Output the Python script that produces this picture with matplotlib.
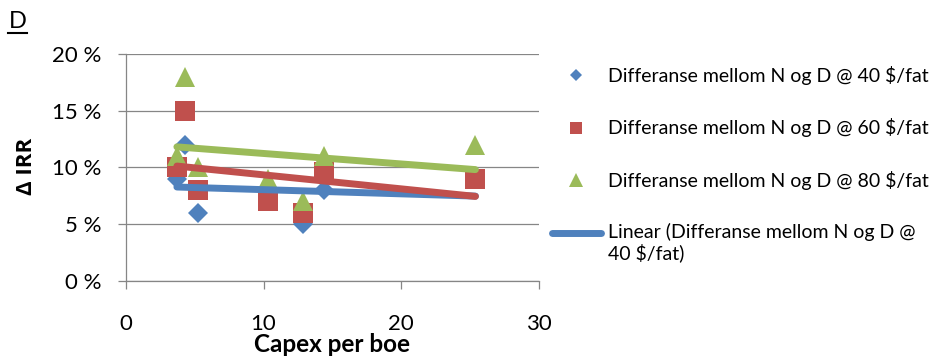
import numpy as np
import matplotlib
matplotlib.use("Agg")
import matplotlib.pyplot as plt
from matplotlib.lines import Line2D
from matplotlib.legend_handler import HandlerLine2D

plt.rcParams['font.family'] = ['Lato', 'DejaVu Sans']

# ---- data ----
capex = [3.7, 4.3, 5.2, 10.3, 12.9, 14.4, 25.4]
irr_40 = [9.0, 12.0, 6.0, 7.0, 5.0, 8.0, 9.0]
irr_60 = [10.0, 15.0, 8.0, 7.0, 6.0, 9.6, 9.0]
irr_80 = [11.0, 18.0, 10.0, 9.0, 7.0, 11.0, 12.0]

series_labels = ["Differanse mellom N og D @ 40 $/fat",
                 "Differanse mellom N og D @ 60 $/fat",
                 "Differanse mellom N og D @ 80 $/fat"]
trend_label = "Linear (Differanse mellom N og D @\n40 $/fat)"

x_ticks = [0, 10, 20, 30]
y_ticks = [0, 5, 10, 15, 20]
y_tick_labels = ["0 %", "5 %", "10 %", "15 %", "20 %"]

BLUE = "#4F81BD"
RED = "#C0504D"
GREEN = "#9BBB59"
GRID = "#868686"

W, H = 933, 356
fig = plt.figure(figsize=(W / 100, H / 100), dpi=100)
ax = fig.add_axes([126 / W, (H - 280.7) / H, (538.7 - 126) / W, (280.7 - 54) / H])

# markers
ax.plot(capex, irr_40, ls="none", marker="D", ms=10.2, mew=0, color=BLUE, zorder=3)
ax.plot(capex, irr_60, ls="none", marker="s", ms=14.4, mew=0, color=RED, zorder=3)
ax.plot(capex, irr_80, ls="none", marker="^", ms=14.4, mew=0, color=GREEN, zorder=3)

# linear trend lines
xs = np.array([min(capex), max(capex)])
for ys, col in [(irr_40, BLUE), (irr_60, RED), (irr_80, GREEN)]:
    k, m = np.polyfit(capex, ys, 1)
    ax.plot(xs, k * xs + m, color=col, lw=5, solid_capstyle="round", zorder=4)

ax.set_xlim(0, 30)
ax.set_ylim(0, 20)
ax.set_xticks(x_ticks)
ax.set_yticks(y_ticks)
ax.set_yticklabels(y_tick_labels)

for s in ["top", "right"]:
    ax.spines[s].set_visible(False)
for s in ["left", "bottom"]:
    ax.spines[s].set_color(GRID)
    ax.spines[s].set_linewidth(0.9)

ax.yaxis.grid(True, color=GRID, lw=0.9)
ax.set_axisbelow(True)
ax.tick_params(axis="both", direction="out", length=5.8, width=0.9, color=GRID,
               labelsize=16, labelcolor="black")
ax.tick_params(axis="x", pad=18)
ax.tick_params(axis="y", pad=12)

ax.set_xlabel("Capex per boe", fontsize=17.5, fontweight="bold", va="center", ha="center")
ax.xaxis.set_label_coords((331.7 - 126) / 412.7, (280.7 - 345) / 226.7)
ax.set_ylabel("Δ IRR", fontsize=16, fontweight="bold", va="center", ha="center",
              family=["Open Sans", "DejaVu Sans"])
ax.yaxis.set_label_coords((27 - 126) / 412.7, (280.7 - 166) / 226.7)

# panel letter "D" underlined
fig.text(8.5 / W, 1 - 21.5 / H, "D", fontsize=17, ha="left", va="center")
fig.add_artist(Line2D([8 / W, 27 / W], [1 - 33 / H, 1 - 33 / H], color="black", lw=1.5))

# legend
class UpperLine(HandlerLine2D):
    def create_artists(self, legend, orig_handle, xdescent, ydescent, width, height,
                       fontsize, trans):
        return super().create_artists(legend, orig_handle, xdescent, ydescent, width,
                                      height + 14.4, fontsize, trans)

h1 = Line2D([], [], ls="none", marker="D", ms=6.1, mew=0, color=BLUE)
h2 = Line2D([], [], ls="none", marker="s", ms=9.0, mew=0, color=RED)
h3 = Line2D([], [], ls="none", marker="^", ms=9.4, mew=0, color=GREEN)
h4 = Line2D([], [], color=BLUE, lw=5, solid_capstyle="round")
leg = fig.legend([h1, h2, h3, h4], series_labels + [trend_label],
                 loc="upper left", bbox_to_anchor=(551.5 / W, 1 - 66 / H),
                 frameon=False, fontsize=14, borderpad=0, borderaxespad=0,
                 handlelength=2.57, handletextpad=0.33, labelspacing=1.72,
                 handler_map={h4: UpperLine()})
for t in leg.get_texts():
    t.set_linespacing(1.15)

fig.savefig("out.png", dpi=100)
